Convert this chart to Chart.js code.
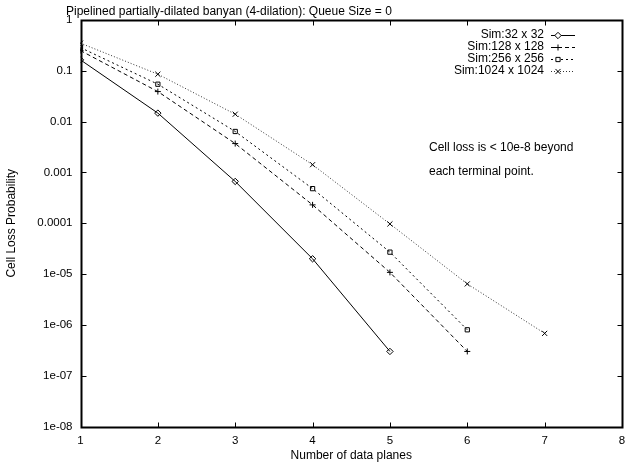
<!DOCTYPE html>
<html>
<head>
<meta charset="utf-8">
<script src="https://cdn.jsdelivr.net/npm/chart.js@4.4.1/dist/chart.umd.min.js"></script>
<style>
  html, body { margin: 0; padding: 0; background: #fff; }
  #wrap { width: 634px; height: 464px; }
</style>
</head>
<body>
<div id="wrap"><canvas id="chart" width="634" height="464"></canvas></div>
<script>
// values
const planes = [1, 2, 3, 4, 5, 6, 7];
const sim32 = [0.164, 0.0147, 6.65e-4, 2.0e-5, 3.0e-7];
const sim128 = [0.25, 0.039, 0.0037, 2.3e-4, 1.08e-5, 3.0e-7];
const sim256 = [0.286, 0.0545, 0.0064, 4.8e-4, 2.7e-5, 8.0e-7];
const sim1024 = [0.35, 0.0857, 0.014, 1.42e-3, 9.7e-5, 6.4e-6, 6.8e-7];

const seriesNames = ["Sim:32 x 32", "Sim:128 x 128", "Sim:256 x 256", "Sim:1024 x 1024"];
const yTickValues = [1, 0.1, 0.01, 0.001, 0.0001, 1e-5, 1e-6, 1e-7, 1e-8];
const yTickLabels = ["1", "0.1", "0.01", "0.001", "0.0001", "1e-05", "1e-06", "1e-07", "1e-08"];
const xTickValues = [1, 2, 3, 4, 5, 6, 7, 8];

const FONT = "'Liberation Sans', Arial, Helvetica, sans-serif";
Chart.defaults.font.family = FONT;
Chart.defaults.font.size = 11.5;
Chart.defaults.color = "#000";

const styles = [
  { dash: [], point: "rectRot", radius: 3.2, color: "#000" },
  { dash: [4, 3], point: "cross", radius: 3, color: "#000" },
  { dash: [2, 3], point: "rect", radius: 3, color: "#000" },
  { dash: [1, 2], point: "crossRot", radius: 3.6, color: "#333" },
];

function toPoints(vals) {
  return vals.map((v, i) => ({ x: planes[i], y: v }));
}

const allSeries = [sim32, sim128, sim256, sim1024];
const datasets = allSeries.map((vals, i) => ({
  label: seriesNames[i],
  data: toPoints(vals),
  borderColor: styles[i].color,
  borderWidth: 1,
  borderDash: styles[i].dash,
  pointStyle: styles[i].point,
  pointRadius: styles[i].radius,
  pointBorderWidth: 1,
  pointBorderColor: "#000",
  pointBackgroundColor: "rgba(255,255,255,0)",
  tension: 0,
  fill: false,
}));

// frame, inward ticks, title, key and note, drawn gnuplot-style
const decorations = {
  id: "decorations",
  afterDraw(chart) {
    const ctx = chart.ctx;
    const a = chart.chartArea;
    const xs = chart.scales.x;
    const ys = chart.scales.y;
    const L = Math.round(a.left) + 0.5;
    const R = Math.round(a.right) + 0.5;
    const T = Math.round(a.top) + 0.5;
    const B = Math.round(a.bottom) + 0.5;
    ctx.save();
    ctx.setLineDash([]);
    ctx.strokeStyle = "#000";
    ctx.lineWidth = 2;
    ctx.beginPath();
    ctx.moveTo(L, T);
    ctx.lineTo(R, T);
    ctx.lineTo(R, B);
    ctx.lineTo(L, B);
    ctx.closePath();
    ctx.stroke();

    ctx.lineWidth = 1;
    const tl = 5;
    ctx.beginPath();
    xTickValues.forEach((v) => {
      const px = Math.round(xs.getPixelForValue(v)) + 0.5;
      ctx.moveTo(px, B);
      ctx.lineTo(px, B - tl);
      ctx.moveTo(px, T);
      ctx.lineTo(px, T + tl);
    });
    yTickValues.forEach((v) => {
      const py = Math.round(ys.getPixelForValue(v)) + 0.5;
      ctx.moveTo(L, py);
      ctx.lineTo(L + tl, py);
      ctx.moveTo(R, py);
      ctx.lineTo(R - tl, py);
    });
    ctx.stroke();

    // title
    ctx.fillStyle = "#000";
    ctx.font = "12px " + FONT;
    ctx.textBaseline = "middle";
    ctx.textAlign = "left";
    ctx.fillText("Pipelined partially-dilated banyan (4-dilation): Queue Size = 0", 66, 12);

    // key
    const keyY = [35, 47, 59, 71];
    seriesNames.forEach((name, i) => {
      const y = keyY[i];
      ctx.textAlign = "right";
      ctx.fillStyle = "#000";
      ctx.font = "12px " + FONT;
      ctx.fillText(name, 544, y);
      ctx.strokeStyle = styles[i].color;
      ctx.lineWidth = 1;
      ctx.setLineDash(styles[i].dash);
      ctx.beginPath();
      ctx.moveTo(551, y + 0.5);
      ctx.lineTo(575, y + 0.5);
      ctx.stroke();
      ctx.setLineDash([]);
      ctx.strokeStyle = "#000";
      ctx.fillStyle = "#fff";
      Chart.helpers.drawPoint(ctx, {
        pointStyle: styles[i].point,
        radius: styles[i].radius,
        borderWidth: 1,
        rotation: 0,
      }, 558, y + 0.5);
    });

    // note
    ctx.textAlign = "left";
    ctx.fillStyle = "#000";
    ctx.font = "12px " + FONT;
    ctx.fillText("Cell loss is < 10e-8 beyond", 429, 148);
    ctx.fillText("each terminal point.", 429, 172);
    ctx.restore();
  },
};

new Chart(document.getElementById("chart"), {
  type: "line",
  data: { datasets },
  options: {
    responsive: false,
    animation: false,
    layout: { padding: { left: 0, top: 20, right: 12, bottom: 0 } },
    plugins: {
      legend: { display: false },
      tooltip: { enabled: false },
      title: { display: false },
    },
    scales: {
      x: {
        type: "linear",
        min: 1,
        max: 8,
        afterBuildTicks: (scale) => {
          scale.ticks = xTickValues.map((v) => ({ value: v }));
        },
        afterFit: (scale) => {
          scale.height = 37.5;
        },
        ticks: { padding: 7, maxRotation: 0, autoSkip: false },
        grid: { display: false, drawTicks: false },
        border: { display: false },
        title: {
          display: true,
          text: "Number of data planes",
          font: { size: 12 },
          padding: { top: 0, bottom: 1 },
        },
      },
      y: {
        type: "logarithmic",
        min: 1e-8,
        max: 1,
        afterBuildTicks: (scale) => {
          scale.ticks = yTickValues.map((v) => ({ value: v }));
        },
        afterFit: (scale) => {
          scale.width = 80.5;
        },
        ticks: {
          padding: 8,
          autoSkip: false,
          callback: (v) => {
            const i = yTickValues.findIndex((t) => Math.abs(Math.log10(t) - Math.log10(v)) < 1e-6);
            return i >= 0 ? yTickLabels[i] : "";
          },
        },
        grid: { display: false, drawTicks: false },
        border: { display: false },
        title: {
          display: true,
          text: "Cell Loss Probability",
          font: { size: 12 },
          padding: { top: 4, bottom: 0 },
        },
      },
    },
  },
  plugins: [decorations],
});
</script>
</body>
</html>
